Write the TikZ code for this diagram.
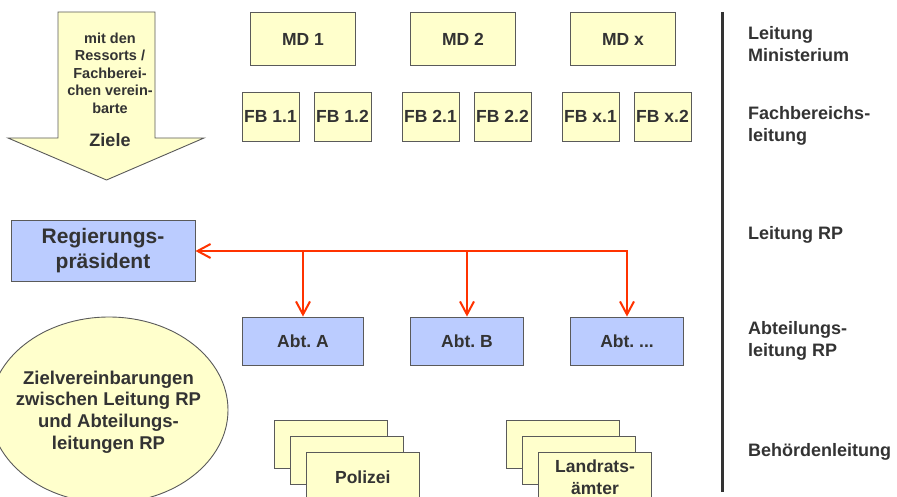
\documentclass[tikz,border=0pt]{standalone}
\usepackage{fontspec}
\setmainfont{Liberation Sans}
\usepackage{tikz}
\usetikzlibrary{shapes.geometric,arrows.meta,positioning}
\definecolor{PY}{HTML}{FFFFCC}
\definecolor{PB}{HTML}{BBCCFF}
\definecolor{PR}{HTML}{FF3300}
\definecolor{PT}{HTML}{333333}
\definecolor{PG}{HTML}{5A5A5A}
\frenchspacing

\begin{document}
\begin{tikzpicture}[x=1pt,y=-1pt,
    >={Straight Barb[length=13pt,width=14pt]},
    box/.style={draw=PG, line width=0.9pt, inner sep=0pt, text=PT, align=center,
      font=\bfseries\fontsize{17.5}{22}\selectfont},
    ybox/.style={box, fill=PY},
    bbox/.style={box, fill=PB},
    conn/.style={PR, line width=2pt},
    lab/.style={anchor=west, align=left, inner sep=0pt, text=PT,
      font=\bfseries\fontsize{18}{22}\selectfont}]
        \useasboundingbox (0,0) rectangle (897,497);
        \clip (0,0) rectangle (897,497);
        \draw[draw=PG, fill=PY, line width=0.9pt]
          (58,12) -- (155,12) -- (155,138) -- (204,138)
          -- (106.5,180) -- (8,138) -- (58,138) -- cycle;
        \node[text=PT, align=center, font=\bfseries\fontsize{14.5}{17.5}\selectfont]
          (goaltxt) at (110,73) {mit den\\Ressorts /\\Fachberei-\\chen verein-\\barte};
        \node[text=PT, font=\bfseries\fontsize{18}{22}\selectfont]
          (goal) at (110,140) {Ziele};
        \foreach \n/\x/\t in {md1/303/MD 1, md2/463/MD 2, mdx/623/MD x}
          \node[ybox, minimum width=105pt, minimum height=53pt] (\n) at (\x,39) {\t};
        \foreach \n/\x/\t in {fb11/270.5/FB 1.1, fb12/342.5/FB 1.2,
                              fb21/430.5/FB 2.1, fb22/502.5/FB 2.2,
                              fbx1/590.5/FB x.1, fbx2/662.5/FB x.2}
          \node[ybox, minimum width=57pt, minimum height=49pt] (\n) at (\x,116.5) {\t};
        \node[bbox, minimum width=184pt, minimum height=61pt,
          font=\bfseries\fontsize{21}{25}\selectfont]
          (rp) at (103,251) {Regierungs-\\präsident};
        \node[bbox, minimum width=121pt, minimum height=48pt] (abta) at (303,341) {Abt. A};
        \node[bbox, minimum width=113pt, minimum height=48pt] (abtb) at (467,341) {Abt. B};
        \node[bbox, minimum width=113pt, minimum height=48pt] (abtx) at (627,341) {Abt. ...};
        \draw[conn, <->] (abtx.north) |- (rp.east);
        \foreach \n in {abta,abtb}
          \draw[conn, ->] (\n.north |- rp.east) -- (\n.north);
        \foreach \i in {0,1}{
          \node[ybox, minimum width=113pt, minimum height=48pt]
            (pol\i) at (330.8+16*\i,444.8+16*\i) {};
          \node[ybox, minimum width=113pt, minimum height=48pt]
            (lra\i) at (563+16*\i,444.8+16*\i) {};
        }
        \node[ybox, minimum width=113pt, minimum height=48pt] (pol2) at (362.8,476.8) {Polizei};
        \node[ybox, minimum width=113pt, minimum height=48pt] (lra2) at (595,476.8) {Landrats-\\ämter};
        \node[ellipse, draw=PG, fill=PY, line width=0.9pt, inner sep=0pt,
          minimum width=238pt, minimum height=186pt] (zv) at (109,410) {};
        \node[text=PT, align=center, font=\bfseries\fontsize{18.5}{21.7}\selectfont]
          (zvtxt) at (108.5,412) {Zielvereinbarungen\\zwischen Leitung RP\\und Abteilungs-\\leitungen RP};
        \coordinate (bartop) at (722.7,12);
        \coordinate (barbot) at (722.7,492);
        \draw[PT, line width=3pt] (bartop) -- (barbot);
        \node[lab] (lvl1) at (748,44) {Leitung\\Ministerium};
        \node[lab] (lvl2) at (748,126) {Fachbereichs-\\leitung};
        \node[lab] (lvl3) at (748,235) {Leitung RP};
        \node[lab] (lvl4) at (748,341) {Abteilungs-\\leitung RP};
        \node[lab] (lvl5) at (748,452) {Behördenleitung};
      \end{tikzpicture}
\end{document}
